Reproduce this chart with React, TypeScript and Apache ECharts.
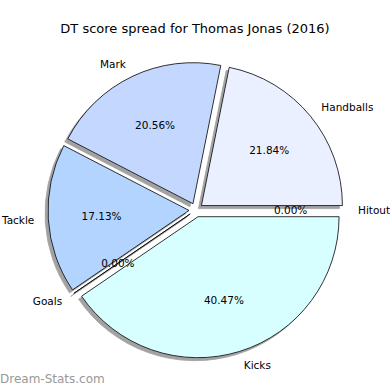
import React, { useEffect, useRef } from "react";
import * as echarts from "echarts";

const categories = ["Handballs", "Mark", "Tackle", "Goals", "Kicks", "Hitout"];
const values = [21.84, 20.56, 17.13, 0, 40.47, 0];
const colors = ["#eaf0ff", "#c4d8ff", "#b3d4ff", "#ffffff", "#d8ffff", "#ffffff"];
const titleText = "DT score spread for Thomas Jonas (2016)";
const watermark = "Dream-Stats.com";

const FONT = "DejaVu Sans";

export default function App() {
  const ref = useRef<HTMLDivElement>(null);
  useEffect(() => {
    document.body.style.margin = "0";
    const chart = echarts.init(ref.current!, null, { renderer: "svg" });
    const total = values.reduce((a, b) => a + b, 0);
    const R = 141;
    const center = [196, 210];
    const common = {
      type: "pie",
      center,
      startAngle: 0,
      clockwise: false,
      selectedMode: "multiple",
      selectedOffset: 7,
      avoidLabelOverlap: false,
      minAngle: 0,
      stillShowZeroSum: true,
      silent: true,
    };
    const data = categories.map((c, i) => ({
      name: c,
      value: values[i],
      selected: true,
      itemStyle: { color: colors[i] },
    }));
    chart.setOption({
      animation: false,
      backgroundColor: "#ffffff",
      title: {
        text: titleText,
        left: "center",
        top: 17,
        textStyle: { fontFamily: FONT, fontSize: 13, fontWeight: "normal", color: "#000" },
      },
      graphic: [
        {
          type: "text",
          left: 0,
          top: 373,
          style: { text: watermark, fontFamily: FONT, fontSize: 12, fill: "#999999" },
        },
      ],
      series: [
        {
          ...common,
          radius: [0, R],
          data,
          itemStyle: {
            borderColor: "#000",
            borderWidth: 0.8,
            shadowColor: "rgba(70,70,70,0.5)",
            shadowBlur: 0,
            shadowOffsetX: -3,
            shadowOffsetY: 3,
          },
          label: {
            show: true,
            position: "outside",
            distanceToLabelLine: 0,
            fontFamily: FONT,
            fontSize: 10.5,
            color: "#000",
            formatter: (p: any) => p.name,
          },
          labelLine: { show: false, length: 14, length2: 0 },
          emphasis: { disabled: true },
          select: { itemStyle: { borderColor: "#000", borderWidth: 0.8 } },
        },
        {
          ...common,
          radius: [0, R * 1.2],
          data: data.map((d) => ({ ...d, itemStyle: { color: "rgba(0,0,0,0)" } })),
          itemStyle: { borderWidth: 0, color: "rgba(0,0,0,0)" },
          label: {
            show: true,
            position: "inside",
            fontFamily: FONT,
            fontSize: 10.5,
            color: "#000",
            formatter: (p: any) => ((p.value / total) * 100).toFixed(2) + "%",
          },
          labelLine: { show: false },
          emphasis: { disabled: true },
          select: { itemStyle: { borderWidth: 0, color: "rgba(0,0,0,0)" } },
        },
      ],
    });
    return () => chart.dispose();
  }, []);
  return <div ref={ref} style={{ width: 390, height: 390 }} />;
}
